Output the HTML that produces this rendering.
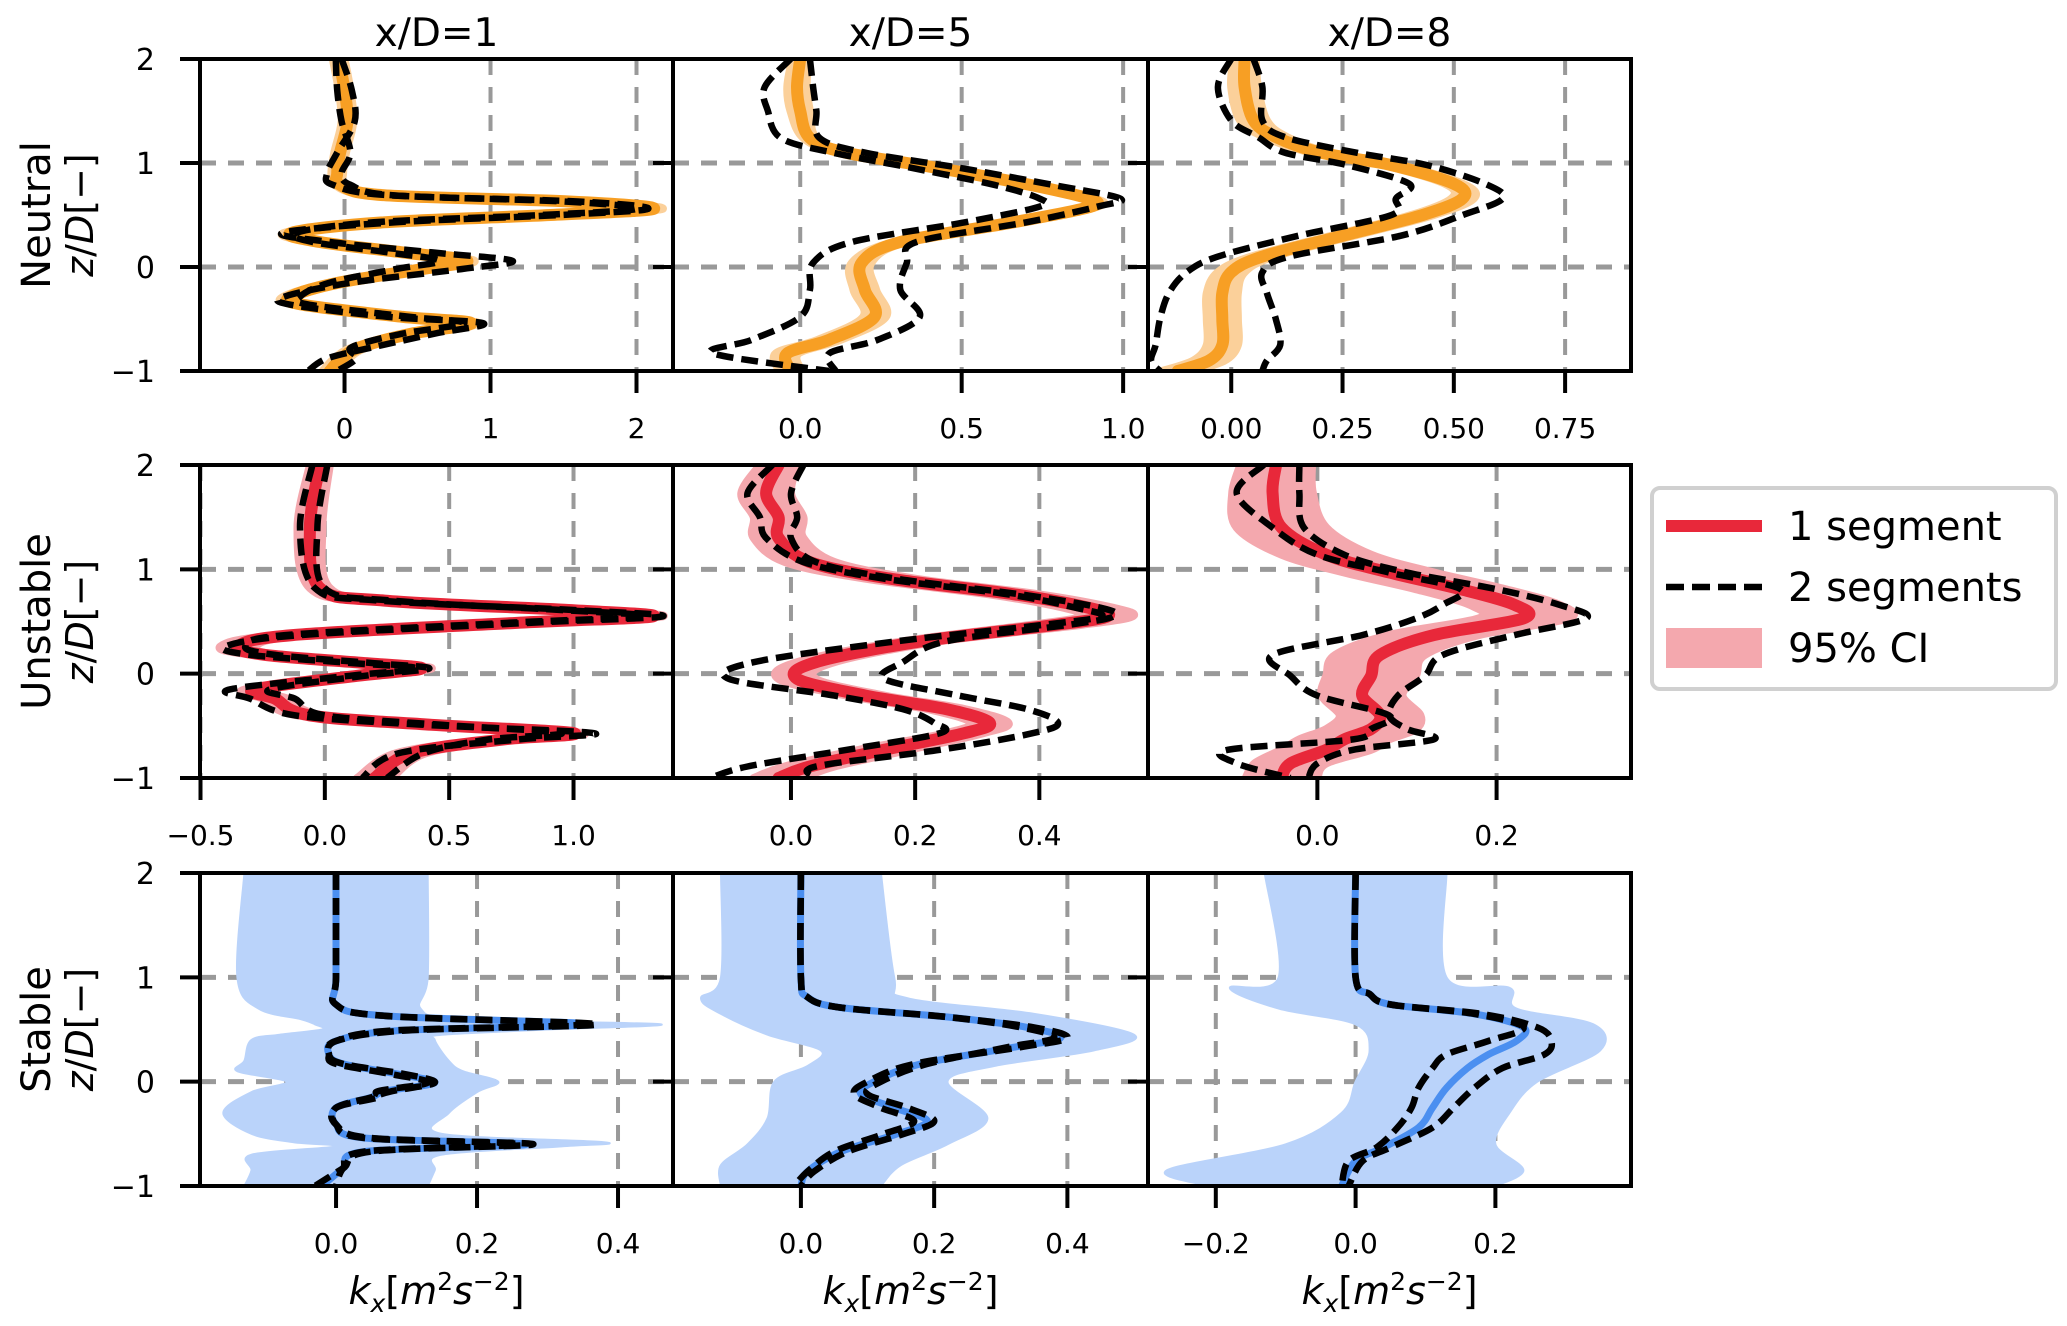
<!DOCTYPE html>
<html><head><meta charset="utf-8"><style>
body{margin:0;background:#fff}
svg{display:block;font-family:"DejaVu Sans","Liberation Sans",sans-serif}
</style></head><body>
<svg id="fig" width="2067" height="1326" viewBox="0 0 2067 1326" xmlns="http://www.w3.org/2000/svg">
<g id="panels"></g>
<g>
<rect x="1652" y="488" width="404" height="201" rx="8" fill="#fff" stroke="#d0d0d0" stroke-width="4"/>
<line x1="1666" y1="526" x2="1762" y2="526" stroke="#e8283a" stroke-width="12"/>
<text x="1788" y="540" font-size="40">1 segment</text>
<line x1="1666" y1="587" x2="1762" y2="587" stroke="#000" stroke-width="6.5" stroke-dasharray="18,8"/>
<text x="1788" y="601" font-size="40">2 segments</text>
<rect x="1666" y="628" width="96" height="40" fill="#f4a8ae"/>
<text x="1788" y="662" font-size="40">95% CI</text>
</g>
</svg>
<script>
// ---- data: z/D positions and k_x values per panel ----
const colTitles = ["x/D=1","x/D=5","x/D=8"];
const rowNames = ["Neutral","Unstable","Stable"];
const yTicks = [-1,0,1,2];
const yTickLabels = ["\u22121","0","1","2"];

const n1_z  = [2,1.7,1.4,1.1,0.9,0.79,0.69,0.63,0.56,0.5,0.43,0.33,0.24,0.14,0.06,-0.02,-0.15,-0.28,-0.36,-0.48,-0.54,-0.64,-0.77,-0.88,-1];
const n1_m  = [-0.04,0.0,0.02,-0.03,-0.05,-0.03,0.27,1.54,2.12,1.41,0.27,-0.36,-0.17,0.4,0.84,0.53,-0.04,-0.36,-0.3,0.4,0.87,0.46,0.11,-0.02,-0.1];
const n1_a  = [-0.02,0.05,0.07,-0.05,-0.12,-0.08,0.3,1.6,2.08,1.48,0.35,-0.42,-0.1,0.6,1.15,0.8,0.05,-0.4,-0.38,0.3,0.95,0.62,0.2,-0.12,-0.25];
const n1_b  = [-0.06,-0.05,-0.02,0.04,-0.02,0.04,0.33,1.5,2.0,1.35,0.2,-0.33,-0.22,0.3,0.65,0.35,-0.1,-0.3,-0.25,0.45,0.82,0.4,0.05,0.08,-0.05];
const n1_w  = [0.04,0.04,0.04,0.04,0.04,0.04,0.05,0.06,0.06,0.06,0.05,0.05,0.05,0.05,0.05,0.05,0.05,0.05,0.05,0.05,0.05,0.05,0.05,0.05,0.05];

const n5_z  = [2,1.73,1.5,1.24,1.1,0.95,0.79,0.66,0.58,0.43,0.24,0.04,-0.22,-0.48,-0.7,-0.83,-1];
const n5_m  = [0.0,-0.01,0.0,0.03,0.14,0.43,0.71,0.89,0.9,0.66,0.31,0.19,0.2,0.23,0.09,-0.04,-0.03];
const n5_a  = [-0.03,-0.11,-0.1,-0.06,0.1,0.35,0.6,0.74,0.74,0.51,0.16,0.04,0.03,0.0,-0.15,-0.27,0.09];
const n5_b  = [0.03,0.04,0.05,0.06,0.2,0.5,0.78,0.99,0.92,0.7,0.36,0.33,0.31,0.37,0.24,0.09,0.11];
const n5_w  = [0.025,0.03,0.03,0.02,0.02,0.02,0.02,0.02,0.02,0.02,0.02,0.03,0.035,0.035,0.035,0.035,0.035];

const n8_z  = [2,1.73,1.41,1.25,1.1,0.98,0.8,0.66,0.5,0.3,0.1,-0.05,-0.25,-0.5,-0.75,-0.9,-1];
const n8_m  = [0.03,0.03,0.05,0.1,0.2,0.36,0.5,0.52,0.43,0.25,0.07,0.0,-0.02,-0.02,-0.02,-0.05,-0.12];
const n8_a  = [0.0,-0.03,0.0,0.06,0.12,0.26,0.4,0.37,0.36,0.15,-0.03,-0.1,-0.14,-0.16,-0.17,-0.18,-0.16];
const n8_b  = [0.05,0.07,0.07,0.12,0.28,0.44,0.57,0.61,0.52,0.38,0.13,0.07,0.08,0.1,0.11,0.08,0.07];
const n8_w  = [0.025,0.03,0.03,0.025,0.02,0.02,0.02,0.025,0.025,0.025,0.025,0.03,0.035,0.035,0.035,0.035,0.035];

const u1_z  = [2,1.4,0.82,0.7,0.61,0.55,0.49,0.37,0.26,0.18,0.1,0.05,-0.02,-0.15,-0.24,-0.4,-0.49,-0.57,-0.63,-0.76,-1];
const u1_m  = [-0.02,-0.06,-0.02,0.24,0.98,1.32,0.8,-0.13,-0.35,-0.24,0.17,0.39,0.13,-0.28,-0.2,-0.06,0.43,1.0,0.72,0.35,0.2];
const u1_a  = [-0.05,-0.1,-0.04,0.22,1.0,1.36,0.85,-0.1,-0.4,-0.3,0.12,0.37,0.1,-0.38,-0.3,-0.12,0.4,1.08,0.78,0.3,0.15];
const u1_b  = [0.01,-0.03,0.0,0.27,0.95,1.28,0.76,-0.16,-0.32,-0.2,0.2,0.42,0.16,-0.22,-0.12,0.0,0.47,0.95,0.66,0.4,0.25];
const u1_w  = [0.04,0.05,0.04,0.04,0.04,0.04,0.04,0.05,0.07,0.05,0.04,0.04,0.04,0.04,0.05,0.05,0.04,0.04,0.04,0.06,0.07];

const u5_z  = [2,1.73,1.5,1.3,1.07,0.91,0.76,0.63,0.55,0.47,0.31,0.11,-0.05,-0.21,-0.34,-0.47,-0.57,-0.73,-0.89,-1];
const u5_m  = [-0.02,-0.04,-0.02,-0.02,0.03,0.16,0.36,0.48,0.51,0.43,0.21,0.04,0.01,0.12,0.25,0.32,0.28,0.15,0.03,-0.02];
const u5_a  = [-0.03,-0.07,-0.05,-0.04,0.02,0.15,0.35,0.46,0.5,0.41,0.17,-0.06,-0.1,0.07,0.18,0.23,0.24,0.09,-0.07,-0.13];
const u5_b  = [0.02,0.0,0.01,0.0,0.04,0.17,0.37,0.5,0.52,0.45,0.25,0.18,0.15,0.27,0.38,0.43,0.39,0.24,0.04,0.04];
const u5_w  = [0.03,0.04,0.04,0.04,0.04,0.04,0.04,0.04,0.04,0.04,0.03,0.03,0.03,0.03,0.03,0.03,0.03,0.04,0.04,0.04];

const u8_z  = [2,1.73,1.4,1.14,0.97,0.81,0.66,0.53,0.37,0.18,-0.02,-0.21,-0.4,-0.53,-0.63,-0.73,-0.86,-1];
const u8_m  = [-0.046,-0.05,-0.04,0.01,0.08,0.16,0.22,0.23,0.13,0.07,0.06,0.05,0.07,0.06,0.03,0.01,-0.03,-0.04];
const u8_a  = [-0.06,-0.09,-0.05,0.0,0.08,0.16,0.14,0.11,0.05,-0.05,-0.03,0.0,0.08,0.06,0.04,-0.1,-0.09,-0.03];
const u8_b  = [-0.02,-0.02,-0.015,0.03,0.1,0.2,0.27,0.3,0.22,0.14,0.12,0.09,0.08,0.1,0.13,0.04,0.0,-0.01];
const u8_w  = [0.04,0.045,0.05,0.05,0.05,0.05,0.05,0.05,0.05,0.05,0.05,0.045,0.045,0.05,0.05,0.05,0.04,0.04];

const s1_z  = [2,1.0,0.74,0.63,0.55,0.49,0.39,0.26,0.17,0.07,-0.01,-0.09,-0.15,-0.25,-0.41,-0.54,-0.6,-0.67,-0.83,-1];
const s1_m  = [0.0,0.0,0.0,0.07,0.36,0.09,0.0,-0.01,0.01,0.09,0.14,0.07,0.05,0.0,0.0,0.04,0.27,0.04,0.01,-0.02];
const s1_a  = [0.0,0.0,0.0,0.07,0.37,0.1,0.0,-0.01,0.0,0.08,0.13,0.06,0.06,0.0,0.0,0.05,0.28,0.05,0.01,-0.03];
const s1_b  = [0.0,0.0,0.0,0.07,0.35,0.08,0.0,-0.01,0.01,0.1,0.14,0.08,0.05,0.0,0.0,0.04,0.26,0.04,0.01,0.0];
const s1_cz = [2,1.0,0.7,0.6,0.55,0.5,0.45,0.4,0.2,0.1,0.0,-0.1,-0.3,-0.5,-0.58,-0.62,-0.7,-0.85,-1];
const s1_lo = [-0.13,-0.14,-0.11,-0.05,-0.03,-0.02,-0.08,-0.12,-0.13,-0.14,-0.07,-0.12,-0.16,-0.12,-0.06,0.0,-0.12,-0.12,-0.13];
const s1_hi = [0.13,0.13,0.12,0.18,0.46,0.3,0.15,0.14,0.16,0.18,0.23,0.2,0.16,0.15,0.38,0.32,0.15,0.14,0.13];

const s5_z  = [2,1.0,0.81,0.71,0.62,0.52,0.42,0.33,0.17,0.0,-0.12,-0.25,-0.38,-0.51,-0.67,-0.86,-1];
const s5_m  = [0.0,0.0,0.01,0.06,0.22,0.34,0.39,0.32,0.18,0.11,0.09,0.14,0.19,0.14,0.06,0.01,0.0];
const s5_a  = [0.0,0.0,0.01,0.06,0.22,0.35,0.4,0.33,0.17,0.1,0.08,0.12,0.17,0.12,0.05,0.01,-0.01];
const s5_b  = [0.0,0.0,0.01,0.06,0.22,0.33,0.38,0.31,0.19,0.12,0.1,0.16,0.2,0.15,0.07,0.02,0.0];
const s5_cz = [2,1.0,0.8,0.65,0.45,0.3,0.15,0.0,-0.35,-0.6,-0.8,-1];
const s5_lo = [-0.12,-0.12,-0.15,-0.12,-0.05,0.03,0.01,-0.04,-0.05,-0.08,-0.12,-0.12];
const s5_hi = [0.12,0.14,0.16,0.35,0.5,0.44,0.29,0.22,0.28,0.22,0.15,0.12];

const s8_z  = [2,1.0,0.84,0.74,0.65,0.52,0.39,0.26,0.13,-0.06,-0.25,-0.44,-0.63,-0.76,-1];
const s8_m  = [0.0,0.0,0.02,0.05,0.17,0.24,0.23,0.19,0.16,0.13,0.11,0.09,0.04,0.0,-0.02];
const s8_a  = [0.0,0.0,0.02,0.05,0.17,0.24,0.19,0.13,0.11,0.09,0.08,0.06,0.03,-0.01,-0.02];
const s8_b  = [0.0,0.0,0.02,0.05,0.18,0.26,0.28,0.27,0.21,0.17,0.14,0.11,0.05,0.01,-0.01];
const s8_cz = [2,1.0,0.9,0.7,0.55,0.3,0.0,-0.3,-0.6,-0.85,-1];
const s8_lo = [-0.13,-0.11,-0.18,-0.11,0.0,0.02,0.0,-0.02,-0.1,-0.27,-0.21];
const s8_hi = [0.13,0.13,0.22,0.23,0.34,0.35,0.26,0.22,0.2,0.24,0.2];

const xlims = [[-0.99,2.25],[-0.394,1.077],[-0.187,0.898],[-0.502,1.40],[-0.19,0.575],[-0.189,0.35],[-0.193,0.478],[-0.192,0.521],[-0.297,0.394]];
const xtickVals = [[0,1,2],[0,0.5,1.0],[0,0.25,0.5,0.75],[-0.5,0,0.5,1.0],[0,0.2,0.4],[0,0.2],[0,0.2,0.4],[0,0.2,0.4],[-0.2,0,0.2]];
const xtickLabels = [["0","1","2"],["0.0","0.5","1.0"],["0.00","0.25","0.50","0.75"],["\u22120.5","0.0","0.5","1.0"],["0.0","0.2","0.4"],["0.0","0.2"],["0.0","0.2","0.4"],["0.0","0.2","0.4"],["\u22120.2","0.0","0.2"]];

const panelData = [
 [n1_z,n1_m,n1_a,n1_b,n1_w],[n5_z,n5_m,n5_a,n5_b,n5_w],[n8_z,n8_m,n8_a,n8_b,n8_w],
 [u1_z,u1_m,u1_a,u1_b,u1_w],[u5_z,u5_m,u5_a,u5_b,u5_w],[u8_z,u8_m,u8_a,u8_b,u8_w],
 [s1_z,s1_m,s1_a,s1_b,null,s1_cz,s1_lo,s1_hi],[s5_z,s5_m,s5_a,s5_b,null,s5_cz,s5_lo,s5_hi],[s8_z,s8_m,s8_a,s8_b,null,s8_cz,s8_lo,s8_hi]
];

// ---- layout ----
const colX = [[200,673],[673,1148],[1148,1631]];
const rowY = [[59,371],[465,778],[873,1186]];
const lineCol = ["#f79f24","#e8283a","#4b8ff0"];
const ciCol = ["#fbd09a","#f4a8ae","#bad3fa"];
const lineW = [12,12,7];
const NS="http://www.w3.org/2000/svg";
const root=document.getElementById('panels');
function mk(tag,attrs,parent){const e=document.createElementNS(NS,tag);for(const k in attrs)e.setAttribute(k,attrs[k]);(parent||root).appendChild(e);return e;}
function smooth(pts){
  let d="M"+pts[0][0].toFixed(1)+","+pts[0][1].toFixed(1);
  for(let i=0;i<pts.length-1;i++){
    const p0=pts[Math.max(0,i-1)],p1=pts[i],p2=pts[i+1],p3=pts[Math.min(pts.length-1,i+2)];
    const c1=[p1[0]+(p2[0]-p0[0])/6,p1[1]+(p2[1]-p0[1])/6];
    const c2=[p2[0]-(p3[0]-p1[0])/6,p2[1]-(p3[1]-p1[1])/6];
    d+="C"+c1[0].toFixed(1)+","+c1[1].toFixed(1)+" "+c2[0].toFixed(1)+","+c2[1].toFixed(1)+" "+p2[0].toFixed(1)+","+p2[1].toFixed(1);
  }
  return d;
}
for(let r=0;r<3;r++){
 for(let c=0;c<3;c++){
  const idx=r*3+c;
  const [x0,x1]=colX[c],[y0,y1]=rowY[r];
  const [xa,xb]=xlims[idx];
  const sx=v=>x0+(v-xa)/(xb-xa)*(x1-x0);
  const sy=z=>y1-(z+1)/3*(y1-y0);
  const g=mk('g',{});
  
  
  const cid='clip'+idx;
  const cp=mk('clipPath',{id:cid},g);mk('rect',{x:x0,y:y0,width:x1-x0,height:y1-y0},cp);
  xtickVals[idx].forEach(v=>{const l=mk('line',{x1:sx(v),x2:sx(v),y1:y0,y2:y1,stroke:'#999',"stroke-width":4,"stroke-dasharray":"16,12"},g);
    });
  [0,1].forEach(z=>{const l=mk('line',{x1:x0,x2:x1,y1:sy(z),y2:sy(z),stroke:'#999',"stroke-width":5,"stroke-dasharray":"16,12"},g);
    });
  const pd=panelData[idx];
  const cg=mk('g',{"clip-path":"url(#"+cid+")"},g);
  let lo,hi,cz;
  if(pd[4]){cz=pd[0];lo=pd[1].map((v,i)=>v-pd[4][i]);hi=pd[1].map((v,i)=>v+pd[4][i]);}
  else{cz=pd[5];lo=pd[6];hi=pd[7];}
  const hp=cz.map((z,i)=>[sx(hi[i]),sy(z)]);
  const lp=cz.map((z,i)=>[sx(lo[i]),sy(z)]).reverse();
  let bd=smooth(hp)+"L"+smooth(lp).slice(1)+"Z";
  const band=mk('path',{d:bd,fill:ciCol[r],stroke:ciCol[r],"stroke-width":pd[4]?8:2,"stroke-linejoin":"round"},cg);
  
  const mp=pd[0].map((z,i)=>[sx(pd[1][i]),sy(z)]);
  const ml=mk('path',{d:smooth(mp),fill:'none',stroke:lineCol[r],"stroke-width":lineW[r],"stroke-linejoin":"round","stroke-linecap":"round"},cg);
  
  [2,3].forEach(k=>{const pp=pd[0].map((z,i)=>[sx(pd[k][i]),sy(z)]);
    const dl=mk('path',{d:smooth(pp),fill:'none',stroke:'#000',"stroke-width":6.5,"stroke-dasharray":"17,8"},cg);
    });
  const fr=mk('rect',{x:x0,y:y0,width:x1-x0,height:y1-y0,fill:'none',stroke:'#000',"stroke-width":4},g);
  
  yTicks.forEach((z,i)=>{mk('line',{x1:x0-20,x2:x0,y1:sy(z),y2:sy(z),stroke:'#000',"stroke-width":4},g);
    if(c===0){const t=mk('text',{x:x0-45,y:sy(z)+11,"font-size":30,"text-anchor":"end"},g);t.textContent=yTickLabels[i];
      }});
  xtickVals[idx].forEach((v,i)=>{mk('line',{x1:sx(v),x2:sx(v),y1:y1,y2:y1+22,stroke:'#000',"stroke-width":4},g);
    const t=mk('text',{x:sx(v),y:y1+67,"font-size":28,"text-anchor":"middle"},g);t.textContent=xtickLabels[idx][i];
    });
  if(r===0){const t=mk('text',{x:(x0+x1)/2,y:46,"font-size":39,"text-anchor":"middle"},g);t.textContent=colTitles[c];
    }
  if(r===2){const t=mk('text',{x:(x0+x1)/2,y:1304,"font-size":38,"text-anchor":"middle"},g);
    t.innerHTML='<tspan font-style="italic">k</tspan><tspan font-style="italic" font-size="25" dy="8">x</tspan><tspan dy="-8">[</tspan><tspan font-style="italic">m</tspan><tspan font-size="25" dy="-14">2</tspan><tspan font-style="italic" dy="14">s</tspan><tspan font-size="25" dy="-14">\u22122</tspan><tspan dy="14">]</tspan>';
    }
 }
 const cy=(rowY[r][0]+rowY[r][1])/2;
 const t1=mk('text',{x:0,y:0,"font-size":40,"text-anchor":"middle",transform:"translate(50,"+cy+") rotate(-90)"});
 t1.textContent=rowNames[r];
 const t2=mk('text',{x:0,y:0,"font-size":38,"text-anchor":"middle",transform:"translate(93,"+cy+") rotate(-90)"});
 t2.innerHTML='<tspan font-style="italic">z</tspan>/<tspan font-style="italic">D</tspan>[\u2212]';
 
}
</script>
</body></html>
